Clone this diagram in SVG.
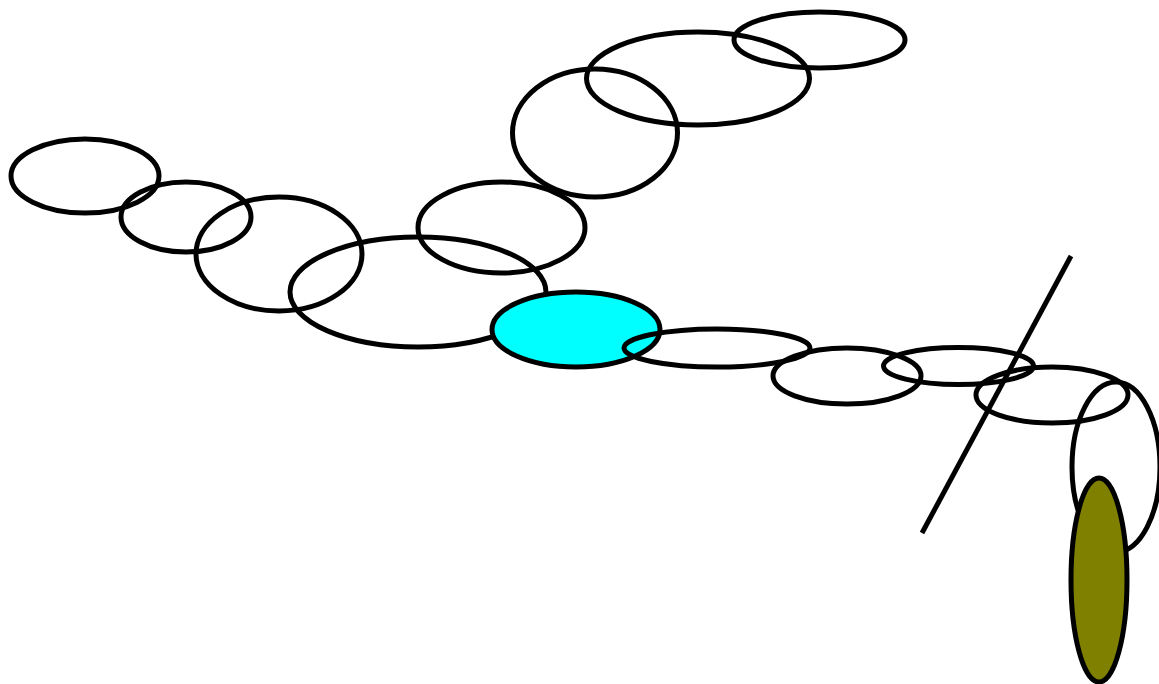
<svg xmlns="http://www.w3.org/2000/svg" width="1159" height="684" viewBox="0 0 1159 684">
<style>
.o{fill:none;stroke:#000;stroke-width:5}
.c{fill:#00ffff;stroke:#000;stroke-width:5}
.v{fill:#808000;stroke:#000;stroke-width:5}
.l{stroke:#000;stroke-width:5;fill:none}
</style>
<rect width="1159" height="684" fill="#fff"/>
<g id="e1"><ellipse class="o" cx="85" cy="176" rx="74" ry="37"/></g>
<g id="e2"><ellipse class="o" cx="186" cy="217" rx="65" ry="35"/></g>
<g id="e3"><ellipse class="o" cx="279" cy="254" rx="83" ry="57"/></g>
<g id="e4"><ellipse class="o" cx="418" cy="292" rx="128" ry="55"/></g>
<g id="e5"><ellipse class="o" cx="501.5" cy="227.5" rx="83.5" ry="45.5"/></g>
<g id="e6"><ellipse class="o" cx="595" cy="133" rx="82.5" ry="64"/></g>
<g id="e7"><ellipse class="o" cx="698" cy="78.5" rx="111.5" ry="46.5"/></g>
<g id="e8"><ellipse class="o" cx="819.5" cy="40" rx="85.5" ry="28"/></g>
<g id="e9"><ellipse class="c" cx="576" cy="329.5" rx="84" ry="37.5"/></g>
<g id="e10"><ellipse class="o" cx="717" cy="348" rx="93" ry="19"/></g>
<g id="e11"><ellipse class="o" cx="847" cy="376" rx="74" ry="28"/></g>
<g id="e12"><ellipse class="o" cx="958.5" cy="366" rx="75" ry="18.5"/></g>
<g id="e13"><ellipse class="o" cx="1052" cy="395" rx="76" ry="28"/></g>
<g id="e14"><ellipse class="o" cx="1116" cy="467" rx="44" ry="85"/></g>
<g id="e15"><ellipse class="v" cx="1099" cy="580" rx="28" ry="102"/></g>
<g id="connectors"><line class="l" x1="1071" y1="256" x2="922" y2="533"/></g>
</svg>
